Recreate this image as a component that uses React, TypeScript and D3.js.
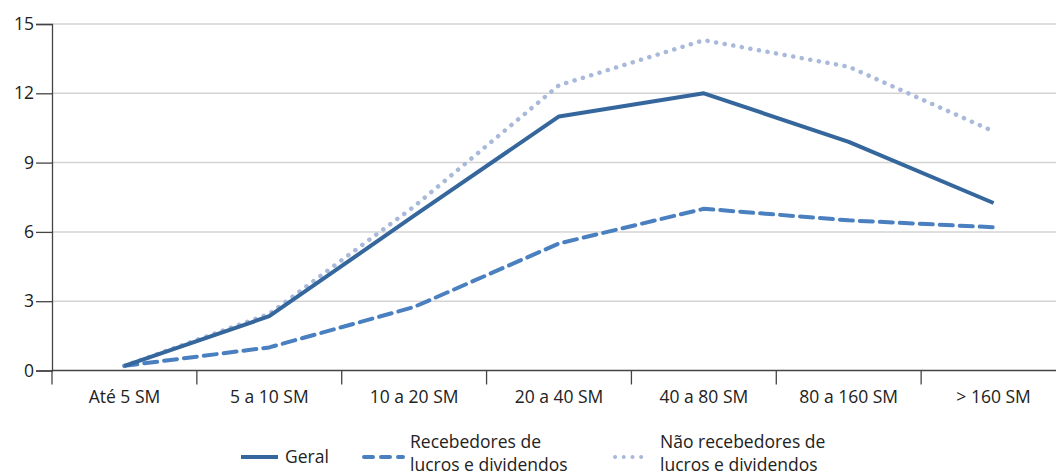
import React, { useEffect, useRef } from 'react';
import * as d3 from 'd3';

// income brackets on the x axis
const categories = ['Até 5 SM', '5 a 10 SM', '10 a 20 SM', '20 a 40 SM', '40 a 80 SM', '80 a 160 SM', '> 160 SM'];
const geral = [0.2, 2.35, 6.7, 11.0, 12.0, 9.9, 7.25];
const recebedores = [0.2, 1.0, 2.75, 5.5, 7.0, 6.5, 6.2];
const naoRecebedores = [0.2, 2.45, 7.1, 12.35, 14.3, 13.15, 10.35];
const yTicks = [0, 3, 6, 9, 12, 15];

const W = 1056;
const H = 475;
const margin = { top: 24, right: -10, left: 52 };
const zeroY = 370.5;

export default function App() {
  const ref = useRef<SVGSVGElement>(null);

  useEffect(() => {
    const svg = d3.select(ref.current);
    svg.selectAll('*').remove();
    const font = '"Open Sans", "Noto Sans", sans-serif';
    const fs = 17.5;

    const x = d3
      .scaleBand()
      .domain(categories)
      .range([margin.left, W - margin.right]);
    const y = d3.scaleLinear().domain([0, 15]).range([zeroY, margin.top]);

    // gridlines
    svg
      .append('g')
      .selectAll('line')
      .data(yTicks.filter((d) => d > 0))
      .enter()
      .append('line')
      .attr('x1', margin.left)
      .attr('x2', W)
      .attr('y1', (d) => y(d))
      .attr('y2', (d) => y(d))
      .attr('stroke', '#d4d4d4')
      .attr('stroke-width', 1.5);

    // y axis
    const yAxis = svg
      .append('g')
      .attr('transform', `translate(${margin.left},0)`)
      .call(d3.axisLeft(y).tickValues(yTicks).tickSize(16).tickPadding(2));
    yAxis.select('.domain').attr('stroke', '#444').attr('stroke-width', 1.3);
    yAxis.selectAll('.tick line').attr('stroke', '#444').attr('stroke-width', 1.3);
    yAxis
      .selectAll('.tick text')
      .attr('font-family', font)
      .attr('font-size', fs)
      .attr('fill', '#222');

    // x axis
    const xAxis = svg
      .append('g')
      .attr('transform', `translate(0,${y(0)})`)
      .call(d3.axisBottom(x).tickSize(0).tickPadding(20));
    xAxis.select('.domain').remove();
    svg
      .append('line')
      .attr('x1', margin.left)
      .attr('x2', W)
      .attr('y1', y(0))
      .attr('y2', y(0))
      .attr('stroke', '#444')
      .attr('stroke-width', 1.3);
    svg
      .append('g')
      .selectAll('line')
      .data(categories)
      .enter()
      .append('line')
      .attr('x1', (d) => x(d)!)
      .attr('x2', (d) => x(d)!)
      .attr('y1', y(0))
      .attr('y2', y(0) + 14)
      .attr('stroke', '#444')
      .attr('stroke-width', 1.3);
    xAxis
      .selectAll('.tick text')
      .attr('font-family', font)
      .attr('font-size', fs)
      .attr('fill', '#222');

    const cx = (i: number) => x(categories[i])! + x.bandwidth() / 2;
    const line = d3
      .line<number>()
      .x((d, i) => cx(i))
      .y((d) => y(d));

    const series = [
      { data: naoRecebedores, color: '#a8b9da', dash: '0.1 8.6', cap: 'round', width: 4.5 },
      { data: recebedores, color: '#4a7fc0', dash: '13 7', cap: 'round', width: 4 },
      { data: geral, color: '#35679d', dash: null, cap: 'butt', width: 4 },
    ];

    series.forEach((s) => {
      svg
        .append('path')
        .datum(s.data)
        .attr('d', line)
        .attr('fill', 'none')
        .attr('stroke', s.color)
        .attr('stroke-width', s.width)
        .attr('stroke-linecap', s.cap)
        .attr('stroke-linejoin', 'round')
        .attr('stroke-dasharray', s.dash);
    });

    // legend
    const leg = svg.append('g').attr('font-family', font).attr('font-size', fs).attr('fill', '#222');
    const ly = 457;
    leg.append('line').attr('x1', 241).attr('x2', 278).attr('y1', ly).attr('y2', ly)
      .attr('stroke', '#35679d').attr('stroke-width', 4);
    leg.append('text').attr('x', 285).attr('y', ly + 6).text('Geral');

    leg.append('line').attr('x1', 364).attr('x2', 403).attr('y1', ly).attr('y2', ly)
      .attr('stroke', '#4a7fc0').attr('stroke-width', 4).attr('stroke-linecap', 'round')
      .attr('stroke-dasharray', '9 8');
    leg.append('text').attr('x', 410).attr('y', 448).text('Recebedores de');
    leg.append('text').attr('x', 410).attr('y', 471).text('lucros e dividendos');

    leg.append('line').attr('x1', 615).attr('x2', 645).attr('y1', ly).attr('y2', ly)
      .attr('stroke', '#a8b9da').attr('stroke-width', 4).attr('stroke-linecap', 'round')
      .attr('stroke-dasharray', '0.1 8.6');
    leg.append('text').attr('x', 660).attr('y', 448).text('Não recebedores de');
    leg.append('text').attr('x', 660).attr('y', 471).text('lucros e dividendos');
  }, []);

  return (
    <svg
      ref={ref}
      width={W}
      height={H}
      style={{ position: 'absolute', left: 0, top: 0, background: '#fff' }}
    />
  );
}
